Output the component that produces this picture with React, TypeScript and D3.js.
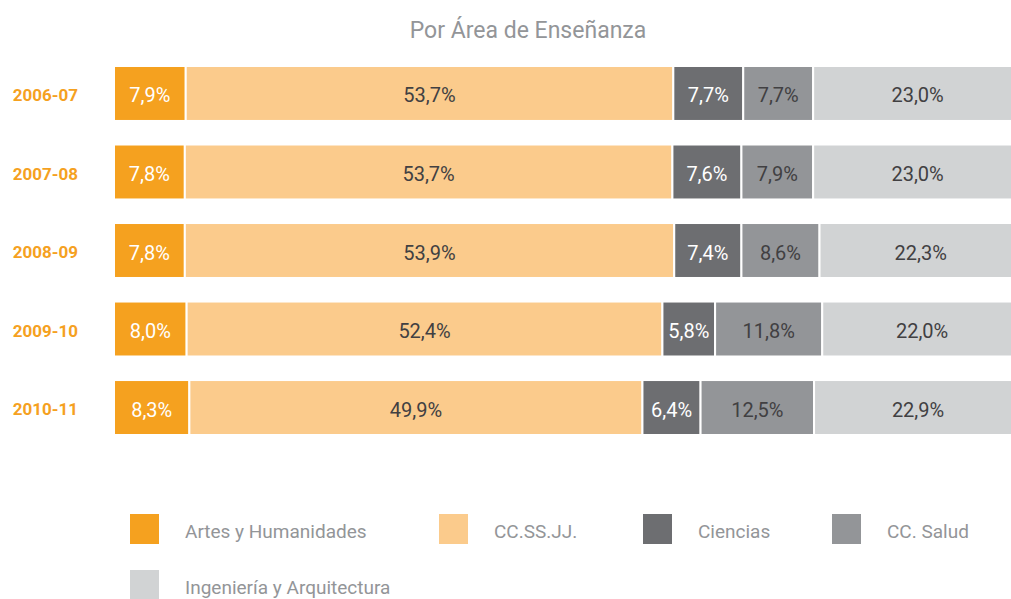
import { useEffect } from 'react';
import * as d3 from 'd3';

const years = ['2006-07', '2007-08', '2008-09', '2009-10', '2010-11'];
const areas = ['Artes y Humanidades', 'CC.SS.JJ.', 'Ciencias', 'CC. Salud', 'Ingeniería y Arquitectura'];
const artes = [7.9, 7.8, 7.8, 8.0, 8.3];
const ccssjj = [53.7, 53.7, 53.9, 52.4, 49.9];
const ciencias = [7.7, 7.6, 7.4, 5.8, 6.4];
const salud = [7.7, 7.9, 8.6, 11.8, 12.5];
const ingenieria = [23.0, 23.0, 22.3, 22.0, 22.9];

const colors = ['#F5A11F', '#FBCB8C', '#6D6E71', '#939598', '#D1D3D4'];
const labelColors = ['#FFFFFF', '#414042', '#FFFFFF', '#414042', '#414042'];

const W = 1011;
const H = 599;
const FONT = 'Roboto, "Liberation Sans", sans-serif';

export default function App() {
  useEffect(() => {
    document.body.style.margin = '0';
  }, []);

  const series = [artes, ccssjj, ciencias, salud, ingenieria];
  const rows = years.map((y, i) => ({ year: y, values: series.map((s) => s[i]) }));

  const x = d3.scaleLinear().domain([0, 100]).range([114, 1022]);
  const y = d3.scaleBand().domain(years).range([66, 435]).paddingInner(0.3).paddingOuter(0);

  const fmt = (v: number) => d3.format('.1f')(v).replace('.', ',') + '%';

  // legend grid
  const legendX = [130, 439, 643, 832];
  const legendY = [514, 570];

  return (
    <svg width={W} height={H} style={{ display: 'block', background: '#fff' }} fontFamily={FONT}>
      <text x={528} y={38} textAnchor="middle" fontSize={23} fill="#939598">
        Por Área de Enseñanza
      </text>

      {rows.map((r) => {
        const stacked = d3.cumsum(r.values);
        const y0 = y(r.year)!;
        const bh = y.bandwidth();
        return (
          <g key={r.year}>
            <text
              x={78}
              y={y0 + bh / 2}
              dy="0.45em"
              textAnchor="end"
              fontSize={17}
              fontWeight="bold"
              fill="#F5A11F"
            >
              {r.year}
            </text>
            {r.values.map((v, k) => {
              const a = x(stacked[k] - v);
              const b = x(stacked[k]);
              return (
                <g key={k}>
                  <rect x={a} y={y0} width={b - a} height={bh} fill={colors[k]} stroke="#fff" strokeWidth={2} />
                  <text
                    x={(a + b) / 2}
                    y={y0 + bh / 2}
                    dy="0.45em"
                    textAnchor="middle"
                    fontSize={20}
                    fill={labelColors[k]}
                  >
                    {fmt(v)}
                  </text>
                </g>
              );
            })}
          </g>
        );
      })}

      {areas.map((name, k) => {
        const lx = legendX[k % 4];
        const ly = legendY[Math.floor(k / 4)];
        return (
          <g key={name}>
            <rect x={lx} y={ly} width={29} height={30} fill={colors[k]} />
            <text x={lx + 55} y={ly + 15} dy="0.45em" fontSize={19} fill="#939598">
              {name}
            </text>
          </g>
        );
      })}
    </svg>
  );
}
